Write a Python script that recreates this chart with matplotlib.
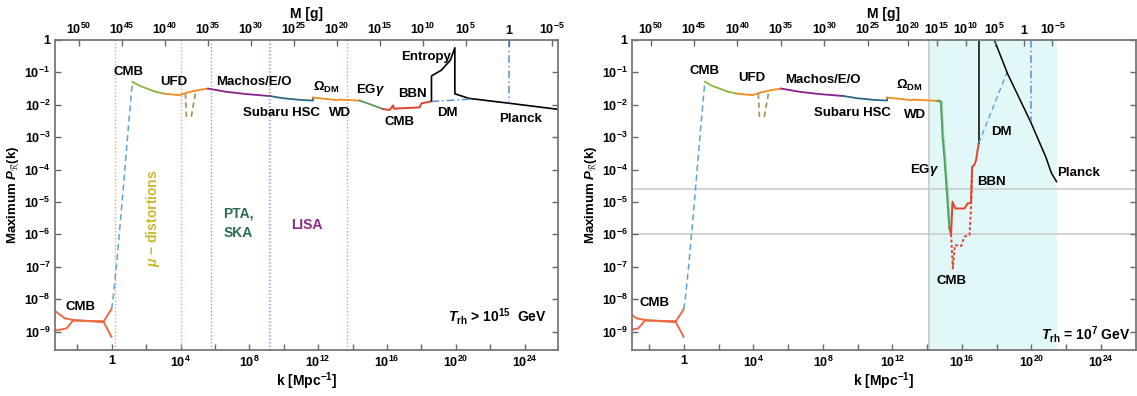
import numpy as np
import matplotlib.pyplot as plt

plt.rcParams['font.family'] = ['Liberation Sans', 'DejaVu Sans']
plt.rcParams['font.weight'] = 'bold'
plt.rcParams['axes.labelweight'] = 'bold'
plt.rcParams['mathtext.fontset'] = 'custom'
plt.rcParams['mathtext.rm'] = 'Liberation Sans:bold'
plt.rcParams['mathtext.bf'] = 'Liberation Sans:bold'
plt.rcParams['mathtext.it'] = 'Liberation Sans:italic:bold'
plt.rcParams['mathtext.bfit'] = 'Liberation Sans:italic:bold'
plt.rcParams['mathtext.default'] = 'bf'

# all values are log10(k / Mpc^-1) and log10(max P_R)
cmb_a_k = [-3.31, -2.73, -2.25, -0.5, -0.02]
cmb_a_p = [-8.36, -8.59, -8.64, -8.71, -8.31]
cmb_b_k = [-3.31, -2.63, -2.25, -0.5, -0.02]
cmb_b_p = [-8.97, -8.90, -8.66, -8.68, -9.16]

mu_k = [-0.02, 0.05, 0.15, 0.3, 0.6, 0.95, 1.2]
mu_p = [-8.31, -8.1, -7.6, -6.8, -5.0, -2.78, -1.29]

cmbpk_k = [1.2, 1.6, 2.0, 2.5, 2.98]
cmbpk_p = [-1.29, -1.41, -1.49, -1.59, -1.65]

ufd_k = [2.98, 3.5, 3.95, 4.4, 4.83, 5.2, 5.6]
ufd_p = [-1.65, -1.68, -1.70, -1.62, -1.57, -1.53, -1.50]

dip_k = [4.28, 4.34, 4.63, 4.88]
dip_p = [-1.65, -2.35, -2.35, -1.60]

macho_k = [5.6, 6.67, 7.83, 9.19]
macho_p = [-1.50, -1.60, -1.67, -1.73]

hsc_k = [9.19, 10.0, 11.0, 11.7, 11.7]
hsc_p = [-1.73, -1.80, -1.85, -1.87, -1.78]

# left panel (T_rh > 1e15 GeV)
wd_k = [11.7, 12.5, 13.1, 13.15, 13.25, 14.42]
wd_p = [-1.78, -1.82, -1.86, -1.84, -1.84, -1.87]
egg_k = [14.42, 15.0, 15.77]
egg_p = [-1.87, -1.98, -2.13]
bbn_k = [15.77, 16.16, 16.36, 16.4, 17.9, 18.0, 18.59]
bbn_p = [-2.13, -2.16, -2.02, -2.12, -2.08, -1.96, -1.89]
ent_k = [18.59, 18.59, 19.17, 19.69, 19.95, 19.95, 20.75, 23.08, 25.5, 25.95]
ent_p = [-1.89, -1.11, -0.93, -0.62, -0.24, -1.66, -1.80, -1.95, -2.11, -2.14]
dm_k = [18.59, 20.96]
dm_p = [-1.90, -1.82]
evap_k = 23.07
evap_p = -1.95

# right panel (T_rh = 1e7 GeV)
wd2_k = [11.7, 12.5, 13.1, 13.15, 13.25, 14.62]
wd2_p = [-1.78, -1.82, -1.86, -1.84, -1.84, -1.88]
egg2_k = [14.62, 14.8, 14.9, 15.0, 15.29]
egg2_p = [-1.88, -1.90, -3.0, -3.6, -5.81]
red2_k = [15.29, 15.38, 15.46, 15.62, 16.15, 16.34, 16.53, 16.59, 16.72, 16.82, 16.97]
red2_p = [-5.81, -6.0, -4.99, -5.2, -5.2, -5.04, -5.04, -3.91, -3.86, -3.70, -3.19]
red2d_k = [15.38, 15.48, 15.6, 15.96, 16.15, 16.44, 16.53, 16.59]
red2d_p = [-6.0, -7.05, -6.33, -6.36, -6.07, -6.02, -5.14, -3.91]
wall2_k = 16.97
wall2_p = -3.19
dm2_k = [16.97, 18.6]
dm2_p = [-3.19, -1.0]
planck2_k = [17.87, 18.64, 19.98, 20.84, 21.15, 21.45]
planck2_p = [0.0, -1.05, -2.55, -3.62, -4.1, -4.37]
evap2_k = 20.0
evap2_p = -2.5
band2 = [14.1, 21.5]
hlines2 = [2.5e-5, 1e-6]

mass_ticks = [50, 45, 40, 35, 30, 25, 20, 15, 10, 5, 0, -5]

C_CMB = '#ee6a45'
C_BLUE = '#5ba4d6'
C_GREEN1 = '#8db43c'
C_ORANGE = '#f28a1e'
C_BROWN = '#a89660'
C_PURPLE = '#8b1f8b'
C_TEAL = '#2b6787'
C_GREEN2 = '#4f9d5c'
C_RED = '#e2432c'
C_DASHDOT = '#5a8fd0'


def L(v):
    return 10.0 ** np.asarray(v)


def k_of_mass_left(lm):
    return (46.15 - lm) / 2


def k_of_mass_right(lm):
    lt = 12.5
    lk = (46.15 - lm) / 2
    if lk > lt:
        lk = lt + (46.15 - 2 * lt - lm) / 3
    return lk


def style_axes(ax, xlo, xhi, kmap):
    ax.set_xscale('log')
    ax.set_yscale('log')
    ax.set_xlim(10 ** xlo, 10 ** xhi)
    ax.set_ylim(10 ** -9.57, 1)
    xt = [e for e in range(-2, 26, 2) if xlo <= e <= xhi]
    ax.set_xticks([10.0 ** e for e in xt])
    labs = []
    for e in xt:
        if e == 0:
            labs.append('1')
        elif e % 4 == 0 and e > 0:
            labs.append(r'$10^{%d}$' % e)
        else:
            labs.append('')
    ax.set_xticklabels(labs)
    ax.xaxis.set_minor_locator(plt.NullLocator())
    yt = list(range(0, -10, -1))
    ax.set_yticks([10.0 ** e for e in yt])
    ax.set_yticklabels(['1'] + [r'$10^{%d}$' % e for e in yt[1:]])
    ax.yaxis.set_minor_locator(plt.NullLocator())
    ax.tick_params(direction='in', length=4, width=1, colors='#666666',
                   labelcolor='black', labelsize=9, right=True)
    for s in ax.spines.values():
        s.set_color('#777777')
        s.set_linewidth(1.3)
    ax.set_xlabel(r'k [Mpc$^{-1}$]', fontsize=10, labelpad=0)
    ax.set_ylabel(r'Maximum $\mathbfit{P}_{\mathcal{R}}$(k)', fontsize=9.5, labelpad=2)

    top = ax.twiny()
    top.set_xscale('log')
    top.set_xlim(ax.get_xlim())
    top.set_xticks([10.0 ** kmap(m) for m in mass_ticks])
    top.set_xticklabels(['1' if m == 0 else r'$10^{%d}$' % m for m in mass_ticks])
    top.xaxis.set_minor_locator(plt.NullLocator())
    top.tick_params(direction='in', length=4, width=1, colors='#666666',
                    labelcolor='black', labelsize=9, pad=2)
    for s in top.spines.values():
        s.set_visible(False)
    top.set_xlabel('M [g]', fontsize=10, labelpad=3)


def common_curves(ax):
    ax.plot(L(cmb_a_k), L(cmb_a_p), color=C_CMB, lw=1.4)
    ax.plot(L(cmb_b_k), L(cmb_b_p), color=C_CMB, lw=1.4)
    ax.plot(L(mu_k), L(mu_p), color=C_BLUE, lw=1.1, ls=(0, (4, 2.5)))
    ax.plot(L(cmbpk_k), L(cmbpk_p), color=C_GREEN1, lw=1.3)
    ax.plot(L(ufd_k), L(ufd_p), color=C_ORANGE, lw=1.3)
    ax.plot(L(dip_k), L(dip_p), color=C_BROWN, lw=1.3, ls=(0, (3, 2)))
    ax.plot(L(macho_k), L(macho_p), color=C_PURPLE, lw=1.3)
    ax.plot(L(hsc_k), L(hsc_p), color=C_TEAL, lw=1.3)


fig = plt.figure(figsize=(11.37, 3.96), dpi=100)
ax1 = fig.add_axes([0.0484, 0.116, 0.4424, 0.783])
ax2 = fig.add_axes([0.5562, 0.116, 0.4425, 0.783])

# ---- left panel ----
for x, c in [(0.17, '#f2a36b'), (4.0, '#f2a36b'), (5.76, '#8ea3b8'),
             (9.15, '#e08ae0'), (9.2, '#b9b3d9'), (13.7, '#e08ae0')]:
    ax1.axvline(10 ** x, color=c, lw=1.0, ls=(0, (1, 1.5)))
common_curves(ax1)
ax1.plot(L(wd_k), L(wd_p), color=C_ORANGE, lw=1.3)
ax1.plot(L(egg_k), L(egg_p), color=C_GREEN2, lw=1.3)
ax1.plot(L(bbn_k), L(bbn_p), color=C_RED, lw=1.4)
ax1.plot(L(ent_k), L(ent_p), color='black', lw=1.2)
ax1.plot(L(dm_k), L(dm_p), color=C_DASHDOT, lw=1.1, ls=(0, (5, 2, 1, 2)))
ax1.plot([10 ** evap_k] * 2, [1, 10 ** evap_p], color=C_DASHDOT, lw=1.1, ls=(0, (5, 2, 1, 2)))
style_axes(ax1, -3.3, 25.95, k_of_mass_left)

kw = dict(fontsize=9.5, ha='center', va='center')
for s, x, y in [('CMB', 0.99, -0.98), ('UFD', 3.63, -1.29), ('Machos/E/O', 8.28, -1.29),
                (r'$\Omega_{\mathbf{DM}}$', 12.5, -1.46), (r'EG$\mathit{\gamma}$', 15.05, -1.54),
                ('BBN', 17.5, -1.68), ('Entropy', 18.3, -0.53), ('Subaru HSC', 9.87, -2.26),
                ('WD', 13.25, -2.26), ('CMB', 16.74, -2.52), ('DM', 19.5, -2.26),
                ('Planck', 23.75, -2.45), ('CMB', -1.82, -8.23)]:
    ax1.text(10 ** x, 10 ** y, s, **kw)
ax1.text(10 ** 2.37, 10 ** -5.5, r'$\mathit{\mu}$ $-$ distortions', color='#cbb82a',
         rotation=90, fontsize=10, ha='center', va='center')
ax1.text(10 ** 7.35, 10 ** -5.66, 'PTA,\nSKA', color='#2f6b58', fontsize=10,
         ha='center', va='center', linespacing=1.5)
ax1.text(10 ** 11.34, 10 ** -5.71, 'LISA', color='#8e2a85', fontsize=10, ha='center', va='center')
ax1.text(10 ** 25.3, 10 ** -8.54, r'$\mathbfit{T}_{\mathbf{rh}}$ > 10$^{\mathbf{15}}$  GeV',
         fontsize=10, ha='right', va='center')

# ---- right panel ----
ax2.axvspan(10 ** band2[0], 10 ** band2[1], color='#e2f8f8', lw=0, zorder=0)
ax2.axvline(10 ** band2[0], color='#c8c8c8', lw=1.2, zorder=0.5)
for h in hlines2:
    ax2.axhline(h, color='#c8c8c8', lw=1.1, zorder=0.5)
common_curves(ax2)
ax2.plot(L(wd2_k), L(wd2_p), color=C_ORANGE, lw=1.3)
ax2.plot(L(egg2_k), L(egg2_p), color=C_GREEN2, lw=1.6)
ax2.plot(L(egg2_k[1:]) * 1.15, L(egg2_p[1:]), color='#8cc896', lw=1.0, ls=(0, (2, 1.5)))
ax2.plot(L(red2d_k), L(red2d_p), color=C_RED, lw=1.4, ls=(0, (1.5, 1.2)))
ax2.plot(L(red2_k), L(red2_p), color=C_RED, lw=1.4)
ax2.plot([10 ** wall2_k] * 2, [10 ** wall2_p, 1], color='black', lw=1.1)
ax2.plot(L(dm2_k), L(dm2_p), color=C_BLUE, lw=1.0, ls=(0, (4, 2.5)))
ax2.plot(L(planck2_k), L(planck2_p), color='black', lw=1.1)
ax2.plot([10 ** evap2_k] * 2, [1, 10 ** evap2_p], color=C_DASHDOT, lw=1.1, ls=(0, (5, 2, 1, 2)))
style_axes(ax2, -2.97, 26.0, k_of_mass_right)

for s, x, y in [('CMB', 1.17, -0.96), ('UFD', 3.9, -1.18), ('Machos/E/O', 8.0, -1.23),
                (r'$\Omega_{\mathbf{DM}}$', 13.0, -1.39), ('Subaru HSC', 9.68, -2.24),
                ('WD', 13.3, -2.31), ('DM', 18.25, -2.83), (r'EG$\mathit{\gamma}$', 13.85, -4.01),
                ('BBN', 17.7, -4.37), ('CMB', 15.38, -7.43), ('Planck', 22.7, -4.11),
                ('CMB', -1.71, -8.13)]:
    ax2.text(10 ** x, 10 ** y, s, **kw)
ax2.text(10 ** 25.7, 10 ** -9.1, r'$\mathbfit{T}_{\mathbf{rh}}$ = 10$^{\mathbf{7}}$ GeV',
         fontsize=10, ha='right', va='center')

fig.savefig('out.png', dpi=100)
